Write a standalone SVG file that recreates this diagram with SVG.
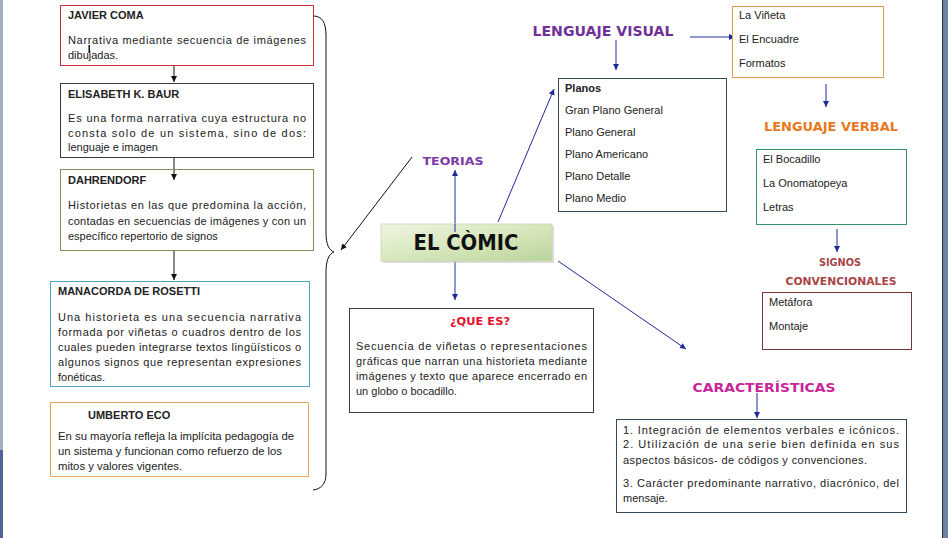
<svg xmlns="http://www.w3.org/2000/svg" width="948" height="538" viewBox="0 0 948 538">
<defs>
<style>
.t{font-family:"Liberation Sans",Arial,sans-serif;font-size:11px;fill:#222}
.b{font-weight:bold}
.h{font-family:"DejaVu Sans","Liberation Sans",sans-serif;font-weight:bold;text-anchor:middle}
.box{fill:#fff;stroke-width:1}
.k{stroke:#111;stroke-width:1;fill:none}
.bl{stroke:#1f2a9a;stroke-width:1;fill:none}
</style>
<marker id="ak" markerWidth="8" markerHeight="8" refX="6" refY="3" orient="auto" markerUnits="userSpaceOnUse"><path d="M0,0 L6,3 L0,6 z" fill="#111"/></marker>
<marker id="ab" markerWidth="8" markerHeight="8" refX="6" refY="3" orient="auto" markerUnits="userSpaceOnUse"><path d="M0,0 L6,3 L0,6 z" fill="#1f2a9a"/></marker>
<linearGradient id="g" x1="0" y1="0" x2="1" y2="1"><stop offset="0" stop-color="#eef5e2"/><stop offset="0.6" stop-color="#d2e4b6"/><stop offset="1" stop-color="#b9d39a"/></linearGradient>
</defs>
<rect width="948" height="538" fill="#fff"/>
<rect x="0" y="0" width="3" height="538" fill="#a3aebd"/>
<rect x="0" y="450" width="3" height="88" fill="#4c6394"/>
<rect x="942" y="0" width="6" height="538" fill="#6d81a2"/>
<line x1="942.5" y1="0" x2="942.5" y2="538" stroke="#2a3040"/>

<g id="connectors">
<path class="k" d="M313,16 C322,16 326,22 326,36 L326,232 C326,245 329,250 334,252 C329,254 326,260 326,272 L326,474 C326,484 321,489 313,490"/>
<line class="k" x1="174" y1="65" x2="174" y2="82" marker-end="url(#ak)"/>
<line class="k" x1="174" y1="157" x2="174" y2="180" marker-end="url(#ak)"/>
<line class="k" x1="174" y1="250" x2="174" y2="280" marker-end="url(#ak)"/>
<line class="k" x1="412" y1="157" x2="341" y2="250" marker-end="url(#ak)"/>
<line class="bl" x1="455" y1="232" x2="455" y2="170" marker-end="url(#ab)"/>
<line class="bl" x1="455" y1="261" x2="455" y2="300" marker-end="url(#ab)"/>
<line class="bl" x1="498" y1="222" x2="554" y2="89" marker-end="url(#ab)"/>
<line class="bl" x1="558" y1="261" x2="686" y2="349" marker-end="url(#ab)"/>
<line class="bl" x1="616" y1="40" x2="616" y2="70" marker-end="url(#ab)"/>
<line class="bl" x1="690" y1="37" x2="735" y2="37" marker-end="url(#ab)"/>
<line class="bl" x1="826" y1="84" x2="826" y2="107" marker-end="url(#ab)"/>
<line class="bl" x1="837" y1="229" x2="837" y2="252" marker-end="url(#ab)"/>
<line class="bl" x1="757" y1="393" x2="757" y2="418" marker-end="url(#ab)"/>
</g>

<g id="javier-coma">
<rect class="box" x="60.5" y="5.5" width="253" height="60" stroke="#c8333a"/>
<text class="t b" x="68" y="19">JAVIER COMA</text>
<text class="t" x="68" y="44" textLength="238" lengthAdjust="spacing">Narrativa mediante secuencia de imágenes</text>
<text class="t" x="68" y="59">dibujadas.</text>
<rect x="88.5" y="45" width="1.5" height="8" fill="#111"/>
</g>

<g id="elisabeth">
<rect class="box" x="60.5" y="83.5" width="253" height="74" stroke="#3c3c3c"/>
<text class="t b" x="68" y="98">ELISABETH K. BAUR</text>
<text class="t" x="68" y="122" textLength="238" lengthAdjust="spacing">Es una forma narrativa cuya estructura no</text>
<text class="t" x="68" y="137" textLength="238" lengthAdjust="spacing">consta solo de un sistema, sino de dos:</text>
<text class="t" x="68" y="151">lenguaje e imagen</text>
</g>

<g id="dahrendorf">
<rect class="box" x="60.5" y="169.5" width="253" height="81" stroke="#8a8a5c"/>
<text class="t b" x="68" y="184">DAHRENDORF</text>
<line class="k" x1="174" y1="170" x2="174" y2="180" marker-end="url(#ak)"/>
<text class="t" x="68" y="209" textLength="238" lengthAdjust="spacing">Historietas en las que predomina la acción,</text>
<text class="t" x="68" y="225" textLength="238" lengthAdjust="spacing">contadas en secuencias de imágenes y con un</text>
<text class="t" x="68" y="240">específico repertorio de signos</text>
</g>

<g id="manacorda">
<rect class="box" x="50.5" y="281.5" width="259" height="105" stroke="#4aa6c2"/>
<text class="t b" x="58" y="295">MANACORDA DE ROSETTI</text>
<text class="t" x="58" y="321" textLength="243" lengthAdjust="spacing">Una historieta es una secuencia narrativa</text>
<text class="t" x="58" y="336" textLength="243" lengthAdjust="spacing">formada por viñetas o cuadros dentro de los</text>
<text class="t" x="58" y="351" textLength="243" lengthAdjust="spacing">cuales pueden integrarse textos lingüísticos o</text>
<text class="t" x="58" y="366" textLength="243" lengthAdjust="spacing">algunos signos que representan expresiones</text>
<text class="t" x="58" y="381">fonéticas.</text>
</g>

<g id="umberto-eco">
<rect class="box" x="50.5" y="402.5" width="258" height="74" stroke="#e9a25e"/>
<text class="t b" x="88" y="419">UMBERTO ECO</text>
<text class="t" x="58" y="440" textLength="236" lengthAdjust="spacingAndGlyphs">En su mayoría refleja la implícita pedagogía de</text>
<text class="t" x="58" y="455" textLength="224" lengthAdjust="spacingAndGlyphs">un sistema y funcionan como refuerzo de los</text>
<text class="t" x="58" y="470" textLength="124" lengthAdjust="spacingAndGlyphs">mitos y valores vigentes.</text>
</g>

<g id="teorias">
<text class="h" x="453" y="165" font-size="11" fill="#7b3aa8" textLength="61" lengthAdjust="spacingAndGlyphs">TEORIAS</text>
</g>

<g id="el-comic">
<rect x="383" y="226" width="171" height="37" fill="#c4c4c4" opacity="0.6"/>
<rect x="381" y="224" width="171" height="37" fill="url(#g)" stroke="#c8d8b0" stroke-width="0.8"/>
<line class="bl" x1="455" y1="224" x2="455" y2="232"/>
<text class="h" x="466" y="250" font-size="21" fill="#111" textLength="105" lengthAdjust="spacingAndGlyphs">EL CÒMIC</text>
</g>

<g id="que-es">
<rect class="box" x="349.5" y="308.5" width="244" height="104" stroke="#3c3c3c"/>
<text class="h" x="480" y="325" font-size="11" fill="#e3102a" textLength="60" lengthAdjust="spacingAndGlyphs">¿QUE ES?</text>
<text class="t" x="356" y="350" textLength="231" lengthAdjust="spacing">Secuencia de viñetas o representaciones</text>
<text class="t" x="356" y="365" textLength="231" lengthAdjust="spacing">gráficas que narran una historieta mediante</text>
<text class="t" x="356" y="380" textLength="231" lengthAdjust="spacing">imágenes y texto que aparece encerrado en</text>
<text class="t" x="356" y="395">un globo o bocadillo.</text>
</g>

<g id="lenguaje-visual">
<text class="h" x="603" y="36" font-size="14" fill="#6f3198" textLength="141" lengthAdjust="spacingAndGlyphs">LENGUAJE VISUAL</text>
</g>

<g id="planos">
<rect class="box" x="558.5" y="78.5" width="168" height="133" stroke="#34495a"/>
<text class="t b" x="565" y="92">Planos</text>
<text class="t" x="565" y="114">Gran Plano General</text>
<text class="t" x="565" y="136">Plano General</text>
<text class="t" x="565" y="158">Plano Americano</text>
<text class="t" x="565" y="180">Plano Detalle</text>
<text class="t" x="565" y="202">Plano Medio</text>
</g>

<g id="vineta">
<rect class="box" x="732.5" y="6.5" width="151" height="71" stroke="#dc9a4a"/>
<text class="t" x="739" y="19">La Viñeta</text>
<text class="t" x="739" y="43">El Encuadre</text>
<text class="t" x="739" y="67">Formatos</text>
</g>

<g id="lenguaje-verbal">
<text class="h" x="831" y="131" font-size="13" fill="#e8781c" textLength="134" lengthAdjust="spacingAndGlyphs">LENGUAJE VERBAL</text>
</g>

<g id="bocadillo">
<rect class="box" x="756.5" y="149.5" width="150" height="75" stroke="#34956a"/>
<text class="t" x="763" y="163">El Bocadillo</text>
<text class="t" x="763" y="187">La Onomatopeya</text>
<text class="t" x="763" y="211">Letras</text>
</g>

<g id="signos">
<text class="h" x="840" y="266" font-size="10" font-weight="normal" fill="#a84446" textLength="42" lengthAdjust="spacingAndGlyphs">SIGNOS</text>
<text class="h" x="841" y="285" font-size="10" font-weight="normal" fill="#a84446" textLength="111" lengthAdjust="spacingAndGlyphs">CONVENCIONALES</text>
</g>

<g id="metafora">
<rect class="box" x="762.5" y="292.5" width="149" height="57" stroke="#7a3434"/>
<text class="t" x="769" y="306">Metáfora</text>
<text class="t" x="769" y="330">Montaje</text>
</g>

<g id="caracteristicas-title">
<text class="h" x="764" y="392" font-size="13" fill="#c8249a" textLength="143" lengthAdjust="spacingAndGlyphs">CARACTERÍSTICAS</text>
</g>

<g id="caracteristicas">
<rect class="box" x="616.5" y="419.5" width="290" height="93" stroke="#34495a"/>
<text class="t" x="623" y="434" textLength="276" lengthAdjust="spacing">1. Integración de elementos verbales e icónicos.</text>
<text class="t" x="623" y="448" textLength="276" lengthAdjust="spacing">2. Utilización de una serie bien definida en sus</text>
<text class="t" x="623" y="464" textLength="244" lengthAdjust="spacing">aspectos básicos- de códigos y convenciones.</text>
<text class="t" x="623" y="487" textLength="276" lengthAdjust="spacing">3. Carácter predominante narrativo, diacrónico, del</text>
<text class="t" x="623" y="502">mensaje.</text>
</g>
</svg>
